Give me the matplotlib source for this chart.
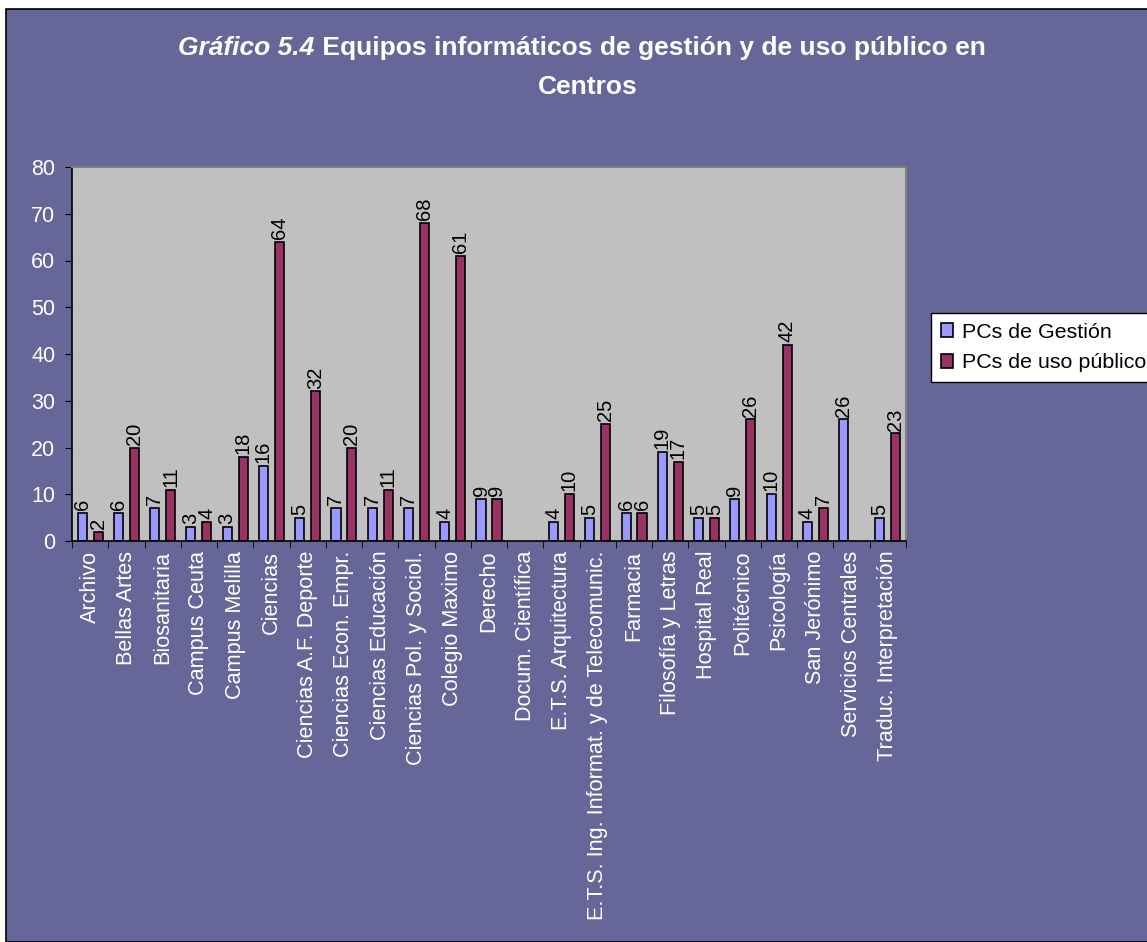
import matplotlib
matplotlib.use('Agg')
from matplotlib import pyplot as plt
from matplotlib.patches import Rectangle
import numpy as np

plt.rcParams['font.family'] = ['Liberation Sans', 'DejaVu Sans']

centros = ['Archivo', 'Bellas Artes', 'Biosanitaria', 'Campus Ceuta', 'Campus Melilla',
           'Ciencias', 'Ciencias A.F. Deporte', 'Ciencias Econ. Empr.', 'Ciencias Educación',
           'Ciencias Pol. y Sociol.', 'Colegio Maximo', 'Derecho', 'Docum. Científica',
           'E.T.S. Arquitectura', 'E.T.S. Ing. Informat. y de Telecomunic.', 'Farmacia',
           'Filosofía y Letras', 'Hospital Real', 'Politécnico', 'Psicología',
           'San Jerónimo', 'Servicios Centrales', 'Traduc. Interpretación']
pcs_gestion = [6, 6, 7, 3, 3, 16, 5, 7, 7, 7, 4, 9, None, 4, 5, 6, 19, 5, 9, 10, 4, 26, 5]
pcs_publico = [2, 20, 11, 4, 18, 64, 32, 20, 11, 68, 61, 9, None, 10, 25, 6, 17, 5, 26, 42, 7, None, 23]

bg = '#666699'
col_g = '#9999FF'
col_p = '#993366'

fig = plt.figure(figsize=(11.47, 9.42), dpi=100, facecolor='white')
fig.patches.append(Rectangle((6 / 1147, 0), 1, 1 - 9 / 942, transform=fig.transFigure,
                             facecolor=bg, edgecolor='black', linewidth=1.2, zorder=-1))

ax = fig.add_axes([72 / 1147, 1 - 541 / 942, (906 - 72) / 1147, (541 - 167) / 942])
ax.set_facecolor('#C0C0C0')

x = np.arange(len(centros))
w = 0.25
g = np.array([np.nan if v is None else v for v in pcs_gestion], dtype=float)
p = np.array([np.nan if v is None else v for v in pcs_publico], dtype=float)
ax.bar(x - 0.22, g, w, color=col_g, edgecolor='black', linewidth=1.2, label='PCs de Gestión')
ax.bar(x + 0.22, p, w, color=col_p, edgecolor='black', linewidth=1.2, label='PCs de uso público')

for i in range(len(centros)):
    if pcs_gestion[i] is not None:
        ax.text(x[i] - 0.22, pcs_gestion[i] + 0.6, str(pcs_gestion[i]), rotation=90,
                ha='center', va='bottom', fontsize=14.5, color='black')
    if pcs_publico[i] is not None:
        ax.text(x[i] + 0.22, pcs_publico[i] + 0.6, str(pcs_publico[i]), rotation=90,
                ha='center', va='bottom', fontsize=14.5, color='black')

ax.set_xlim(-0.5, len(centros) - 0.5)
ax.set_ylim(0, 80)
ax.set_yticks(range(0, 81, 10))
ax.set_xticks(x)
ax.set_xticklabels(centros, rotation=90, fontsize=15.6, color='white')
ax.set_xticks(np.arange(-0.5, len(centros)), minor=True)
ax.tick_params(axis='x', which='major', length=0, pad=7)
ax.tick_params(axis='x', which='minor', length=5, direction='out', color='black')
ax.tick_params(axis='y', labelsize=15.5, labelcolor='white', length=5, color='black', pad=7)
for s in ['top', 'right']:
    ax.spines[s].set_color('#808080')
    ax.spines[s].set_linewidth(1.5)
for s in ['left', 'bottom']:
    ax.spines[s].set_color('black')
    ax.spines[s].set_linewidth(1.2)

leg = fig.legend(loc='upper left', bbox_to_anchor=(931 / 1147, 1 - 313 / 942),
                 borderaxespad=0, fontsize=15.4, frameon=True, fancybox=False,
                 handlelength=0.6, handleheight=0.6, handletextpad=0.4, borderpad=0.45,
                 labelspacing=0.55)
leg.get_frame().set_edgecolor('black')
leg.get_frame().set_facecolor('white')
leg.get_frame().set_alpha(1)

# title, first part in italic
fig.canvas.draw()
r = fig.canvas.get_renderer()
t1 = fig.text(0, 1 - 48 / 942, 'Gráfico 5.4', fontsize=19, fontweight='bold', style='italic',
              color='white', va='center', ha='left')
t2 = fig.text(0, 1 - 48 / 942, ' Equipos informáticos de gestión y de uso público en',
              fontsize=19, fontweight='bold', color='white', va='center', ha='left')
w1 = t1.get_window_extent(r).width
w2 = t2.get_window_extent(r).width
x0 = 582 - (w1 + w2) / 2
t1.set_x(x0 / 1147)
t2.set_x((x0 + w1) / 1147)
fig.text(588 / 1147, 1 - 87 / 942, 'Centros', fontsize=19, fontweight='bold',
         color='white', va='center', ha='center')

plt.savefig('out.png', dpi=100, facecolor=fig.get_facecolor())
